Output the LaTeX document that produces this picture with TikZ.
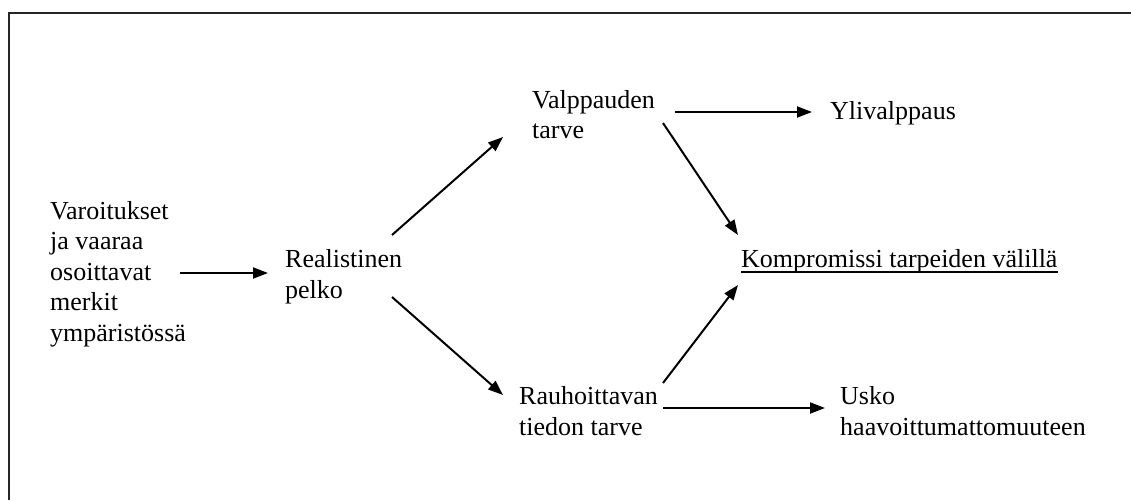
\documentclass[tikz,border=0pt]{standalone}
\usepackage{fontspec}
\setmainfont{Liberation Serif}
\usetikzlibrary{arrows.meta}
\begin{document}
\begin{tikzpicture}[x=1pt,y=-1pt,
  lbl/.style={anchor=base west,inner sep=0pt,align=left,font=\fontsize{26}{30.5}\selectfont},
  arr/.style={line width=2pt,-{Triangle[length=15pt,width=11pt]}},
  frameline/.style={line width=1.8pt,black!85}]
\useasboundingbox (0,0) rectangle (1131,500);
\draw[frameline] (9,500) -- (9,13) -- (1131,13);
% nodes are placed at the baseline of their last line
\node[lbl] (vaa) at (50,341) {Varoitukset\\ja vaaraa\\osoittavat\\merkit\\ympäristössä};
\node[lbl] (real) at (285,298) {Realistinen\\pelko};
\node[lbl] (valp) at (532,139) {Valppauden\\tarve};
\node[lbl] (ylival) at (830,120) {Ylivalppaus};
\node[lbl] (komp) at (741,267) {Kompromissi tarpeiden välillä};
\node[lbl] (rauh) at (519,435) {Rauhoittavan\\tiedon tarve};
\node[lbl] (usko) at (840,435) {Usko\\haavoittumattomuuteen};
\draw[line width=1.3pt] ([shift={(0,5)}]komp.base west) -- ([shift={(0,5)}]komp.base east);
\draw[arr] ([shift={(130,-68)}]vaa.base west) -- ([shift={(-17,-25)}]real.base west);
\draw[arr] ([shift={(107,-63)}]real.base west) -- ([shift={(-29,-2)}]valp.base west);
\draw[arr] ([shift={(107,-1)}]real.base west) -- ([shift={(-16,-40)}]rauh.base west);
\draw[arr] ([shift={(143,-27)}]valp.base west) -- ([shift={(-18,-8)}]ylival.base west);
\draw[arr] ([shift={(131,-16)}]valp.base west) -- ([shift={(-3,-32)}]komp.base west);
\draw[arr] ([shift={(144,-52)}]rauh.base west) -- ([shift={(-3,18)}]komp.base west);
\draw[arr] ([shift={(144,-27)}]rauh.base west) -- ([shift={(-15,-27)}]usko.base west);
\end{tikzpicture}
\end{document}
